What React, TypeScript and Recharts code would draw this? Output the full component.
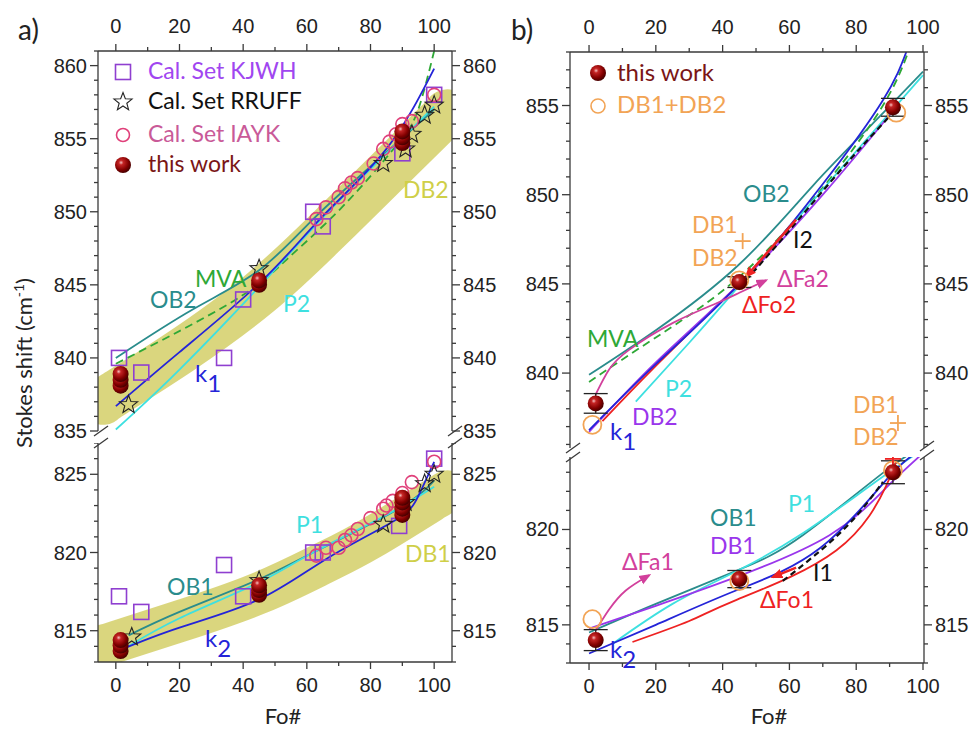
import React from "react";
import { ComposedChart, Line, Scatter, XAxis, YAxis, ErrorBar } from "recharts";

type Pt = { x: number; y: number; err?: number };

// ---------- a) upper window ----------
const kjwhAUp: Pt[] = [
  { x: 1, y: 840 }, { x: 8, y: 839 }, { x: 34, y: 840 }, { x: 40, y: 844 },
  { x: 62, y: 850 }, { x: 65, y: 849 }, { x: 90, y: 854 }, { x: 100, y: 858 },
];
const rruffAUp: Pt[] = [
  { x: 4, y: 836.8 }, { x: 45, y: 846.1 }, { x: 84, y: 853.3 }, { x: 91, y: 854.3 },
  { x: 93, y: 855.3 }, { x: 97, y: 856.6 }, { x: 100, y: 857.3 },
];
const iaykAUp: Pt[] = [
  { x: 63, y: 849.5 }, { x: 66, y: 850.3 }, { x: 70, y: 851 }, { x: 72, y: 851.6 },
  { x: 74, y: 852 }, { x: 76, y: 852.3 }, { x: 81, y: 853.3 }, { x: 84, y: 854.3 },
  { x: 86, y: 854.8 }, { x: 88, y: 855.3 }, { x: 90, y: 856 }, { x: 93, y: 856.2 }, { x: 100, y: 858 },
];
const thisAUp: Pt[] = [
  { x: 1.5, y: 838.1 }, { x: 1.5, y: 838.5 }, { x: 1.5, y: 838.9 }, { x: 45, y: 845 },
  { x: 45, y: 845.3 }, { x: 90, y: 854.7 }, { x: 90, y: 855.1 }, { x: 90, y: 855.5 },
];
const db2Band: Pt[] = [
  { x: -4, y: 837 }, { x: 0, y: 837.6 }, { x: 20, y: 840.4 }, { x: 45, y: 844.4 },
  { x: 65, y: 848.4 }, { x: 80, y: 851.6 }, { x: 100, y: 855.9 }, { x: 104, y: 856.8 },
];
const ob2A: Pt[] = [
  { x: 0, y: 840 }, { x: 24, y: 843.3 }, { x: 45, y: 846 }, { x: 62, y: 849.5 },
  { x: 80, y: 853.1 }, { x: 100, y: 857 },
];
const mvaA: Pt[] = [
  { x: 0, y: 839.6 }, { x: 37, y: 843.9 }, { x: 54, y: 846.8 }, { x: 71, y: 850.3 },
  { x: 88, y: 854.5 }, { x: 95, y: 857 }, { x: 100, y: 861 },
];
const k1A: Pt[] = [
  { x: 0, y: 836.7 }, { x: 20, y: 840.4 }, { x: 46, y: 845.3 }, { x: 65, y: 849.7 },
  { x: 85, y: 854.3 }, { x: 100, y: 859.8 },
];
const p2A: Pt[] = [
  { x: 0, y: 835.1 }, { x: 20, y: 839.2 }, { x: 46, y: 845.1 }, { x: 65, y: 849.6 },
  { x: 85, y: 854 }, { x: 100, y: 857.2 },
];

// ---------- a) lower window ----------
const kjwhALow: Pt[] = [
  { x: 1, y: 817.2 }, { x: 8, y: 816.2 }, { x: 34, y: 819.2 }, { x: 40, y: 817.2 },
  { x: 62, y: 820 }, { x: 65, y: 820 }, { x: 89, y: 821.7 }, { x: 100, y: 826 },
];
const rruffALow: Pt[] = [
  { x: 5, y: 814.6 }, { x: 45, y: 818.2 }, { x: 84, y: 821.8 }, { x: 91, y: 823.2 },
  { x: 97, y: 824.4 }, { x: 100, y: 825 },
];
const iaykALow: Pt[] = [
  { x: 63, y: 819.8 }, { x: 66, y: 820.3 }, { x: 70, y: 820.3 }, { x: 72, y: 820.8 },
  { x: 74, y: 821.1 }, { x: 76, y: 821.5 }, { x: 80, y: 822.2 }, { x: 84, y: 822.8 },
  { x: 85, y: 823 }, { x: 87, y: 823.3 }, { x: 90, y: 823.8 }, { x: 93, y: 824.5 }, { x: 100, y: 825.8 },
];
const thisALow: Pt[] = [
  { x: 1.5, y: 813.7 }, { x: 1.5, y: 814.05 }, { x: 1.5, y: 814.4 }, { x: 45, y: 817.3 },
  { x: 45, y: 817.6 }, { x: 45, y: 817.9 }, { x: 90, y: 822.4 }, { x: 90, y: 822.8 },
  { x: 90, y: 823.2 }, { x: 90, y: 823.5 },
];
const db1Band: Pt[] = [
  { x: -4, y: 814.05 }, { x: 0, y: 814.3 }, { x: 20, y: 815.6 }, { x: 45, y: 817.4 },
  { x: 65, y: 819.3 }, { x: 80, y: 820.9 }, { x: 100, y: 823.4 }, { x: 104, y: 823.9 },
];
const ob1A: Pt[] = [
  { x: 4, y: 814.7 }, { x: 20, y: 816.2 }, { x: 44, y: 818.2 }, { x: 62, y: 820 },
  { x: 88, y: 822.7 }, { x: 100, y: 824.6 },
];
const k2A: Pt[] = [
  { x: 0.5, y: 813.7 }, { x: 20, y: 815.2 }, { x: 45, y: 817 }, { x: 67, y: 819.7 },
  { x: 88, y: 822.1 }, { x: 95, y: 823.6 }, { x: 100, y: 825.8 },
];
const p1A: Pt[] = [
  { x: 3, y: 813.9 }, { x: 20, y: 815.8 }, { x: 44, y: 818 }, { x: 62, y: 820 },
  { x: 85, y: 822.4 }, { x: 100, y: 824.2 },
];

// ---------- b) upper window ----------
const thisBUp: Pt[] = [{ x: 2, y: 838.3, err: 0.55 }, { x: 45, y: 845.1, err: 0.3 }, { x: 91, y: 854.9, err: 0.5 }];
const dbBUp: Pt[] = [{ x: 1, y: 837.1 }, { x: 45, y: 845.2 }, { x: 92, y: 854.6 }];
const plusBUp: Pt[] = [{ x: 46, y: 847.4 }, { x: 92.5, y: 837.2 }];
const ob2B: Pt[] = [
  { x: 0, y: 839.9 }, { x: 20, y: 842.4 }, { x: 45, y: 846.1 }, { x: 67, y: 850.5 },
  { x: 85, y: 854 }, { x: 100, y: 856.9 },
];
const mvaB: Pt[] = [
  { x: 0, y: 839.5 }, { x: 20, y: 842 }, { x: 45, y: 845.4 }, { x: 70, y: 850.4 },
  { x: 88, y: 855 }, { x: 96, y: 858.2 },
];
const k1B: Pt[] = [
  { x: 0, y: 836.8 }, { x: 20, y: 840.5 }, { x: 45, y: 845 }, { x: 70, y: 850.6 },
  { x: 88, y: 855.3 }, { x: 95, y: 858 },
];
const p2B: Pt[] = [
  { x: 14, y: 838.4 }, { x: 30, y: 841.7 }, { x: 45, y: 844.9 }, { x: 70, y: 850.3 }, { x: 100, y: 856.7 },
];
const db2B: Pt[] = [
  { x: 0, y: 836.7 }, { x: 20, y: 840.6 }, { x: 45, y: 845 }, { x: 70, y: 850 }, { x: 91, y: 854.7 },
];
const dFa2: Pt[] = [
  { x: 2, y: 838.8 }, { x: 6, y: 840.2 }, { x: 12, y: 841.3 }, { x: 25, y: 842.8 },
  { x: 38, y: 843.9 }, { x: 45, y: 844.5 }, { x: 53, y: 845.2 },
];
const dFo2Tail: Pt[] = [{ x: 4, y: 837.3 }, { x: 20, y: 840.4 }, { x: 45, y: 845 }];
const dFo2Arrow: Pt[] = [{ x: 62, y: 848.6 }, { x: 47, y: 845.4 }];
const i2: Pt[] = [{ x: 47, y: 845.2 }, { x: 60, y: 848 }, { x: 75, y: 851.3 }, { x: 90, y: 854.4 }];

// ---------- b) lower window ----------
const thisBLow: Pt[] = [{ x: 2, y: 814.2, err: 0.55 }, { x: 45, y: 817.4, err: 0.45 }, { x: 91, y: 823, err: 0.6 }];
const dbBLow: Pt[] = [{ x: 1, y: 815.3 }, { x: 45, y: 817.3 }, { x: 91, y: 823.1 }];
const plusBLow: Pt[] = [{ x: 91, y: 823.7 }];
const ob1B: Pt[] = [
  { x: 0, y: 814.6 }, { x: 20, y: 816.1 }, { x: 45, y: 817.9 }, { x: 64, y: 819.7 },
  { x: 89, y: 823.1 }, { x: 100, y: 824.3 },
];
const p1B: Pt[] = [
  { x: 7, y: 814 }, { x: 25, y: 816.1 }, { x: 44, y: 817.8 }, { x: 64, y: 819.8 },
  { x: 85, y: 822.4 }, { x: 100, y: 824.2 },
];
const db1B: Pt[] = [
  { x: 0, y: 814.8 }, { x: 20, y: 816 }, { x: 44, y: 817.5 }, { x: 72, y: 819.7 },
  { x: 89, y: 822.2 }, { x: 100, y: 824 },
];
const k2B: Pt[] = [
  { x: 0, y: 813.5 }, { x: 20, y: 815 }, { x: 44, y: 816.8 }, { x: 69, y: 819 },
  { x: 89, y: 822.6 }, { x: 97, y: 823.9 },
];
const dFo1: Pt[] = [
  { x: 13, y: 814.1 }, { x: 30, y: 815.2 }, { x: 44, y: 816.3 }, { x: 74, y: 818.9 },
  { x: 89, y: 822.3 }, { x: 92, y: 823.6 },
];
const dFo1Arrow: Pt[] = [{ x: 62, y: 818 }, { x: 55, y: 817.5 }];
const dFa1: Pt[] = [{ x: 2, y: 814.7 }, { x: 6, y: 815.8 }, { x: 11, y: 816.8 }, { x: 18, y: 817.6 }];
const i1: Pt[] = [{ x: 58, y: 817.3 }, { x: 70, y: 819 }, { x: 80, y: 820.7 }, { x: 88, y: 822.5 }];

const X_TICKS = [0, 10, 20, 30, 40, 50, 60, 70, 80, 90, 100];
const range = (a: number, b: number) => {
  const out: number[] = [];
  for (let v = a; v <= b; v++) out.push(v);
  return out;
};

const AXIS = "#3a3a3a";
const FONT_TICK = "'Liberation Sans', Arial, sans-serif";
const FONT_LBL = "Lato, 'Open Sans', sans-serif";
const COL = {
  kjwh: "#8f3fd0",
  kjwhText: "#a046f0",
  iayk: "#e0407a",
  iaykText: "#c95a98",
  thisText: "#7a1616",
  teal: "#2a8c8c",
  green: "#2ea836",
  blue: "#2424d8",
  cyan: "#3ee0e0",
  band: "#d6d270",
  bandText: "#cfcf48",
  purple: "#9a36ec",
  orange: "#f2a455",
  magenta: "#d2409c",
  red: "#ee2222",
};

const xTick = (side: "top" | "bottom") => (p: any) => {
  const v = p.payload.value;
  const major = v % 20 === 0;
  const dir = side === "top" ? -1 : 1;
  const len = major ? 7 : 4;
  return (
    <g>
      <line x1={p.x} x2={p.x} y1={p.y} y2={p.y + dir * len} stroke={AXIS} strokeWidth={1.3} />
      {major && (
        <text x={p.x} y={side === "top" ? p.y - 18 : p.y + 30} textAnchor="middle" fontFamily={FONT_TICK} fontSize={20} fill="#222">
          {v}
        </text>
      )}
    </g>
  );
};

const yTick = (side: "left" | "right") => (p: any) => {
  const v = p.payload.value;
  const major = v % 5 === 0;
  const dir = side === "left" ? -1 : 1;
  const len = major ? 8 : 4;
  return (
    <g>
      <line x1={p.x} x2={p.x + dir * len} y1={p.y} y2={p.y} stroke={AXIS} strokeWidth={1.3} />
      {major && (
        <text x={p.x + dir * (len + 3)} y={p.y + 7} textAnchor={side === "left" ? "end" : "start"} fontFamily={FONT_TICK} fontSize={20} fill="#222">
          {v}
        </text>
      )}
    </g>
  );
};

// marker shapes
const starPath = (cx: number, cy: number, R: number, r: number) => {
  let d = "";
  for (let i = 0; i < 10; i++) {
    const a = -Math.PI / 2 + (i * Math.PI) / 5;
    const rad = i % 2 === 0 ? R : r;
    d += (i === 0 ? "M" : "L") + (cx + rad * Math.cos(a)).toFixed(2) + "," + (cy + rad * Math.sin(a)).toFixed(2);
  }
  return d + "Z";
};
const SquareShape = (p: any) => (
  <rect x={p.cx - 7.5} y={p.cy - 7.5} width={15} height={15} fill="none" stroke={COL.kjwh} strokeWidth={1.6} />
);
const StarShape = (p: any) => <path d={starPath(p.cx, p.cy, 9.5, 4)} fill="none" stroke="#222" strokeWidth={1.1} />;
const RingShape = (p: any) => <circle cx={p.cx} cy={p.cy} r={6.5} fill="none" stroke={COL.iayk} strokeWidth={1.6} />;
const BigRing = (p: any) => <circle cx={p.cx} cy={p.cy} r={9} fill="none" stroke={COL.orange} strokeWidth={1.8} />;
const Sphere = (p: any) => <circle cx={p.cx} cy={p.cy} r={8} fill="url(#sphereGrad)" />;
const PlusShape = (color: string) => (p: any) => (
  <g stroke={color} strokeWidth={1.8}>
    <line x1={p.cx - 8} x2={p.cx + 8} y1={p.cy} y2={p.cy} />
    <line x1={p.cx} x2={p.cx} y1={p.cy - 8} y2={p.cy + 8} />
  </g>
);

const curve = (key: string, data: Pt[], stroke: string, extra: any = {}) => (
  <Line
    key={key}
    yAxisId="l"
    data={data}
    dataKey="y"
    type="natural"
    stroke={stroke}
    strokeWidth={1.8}
    dot={false}
    activeDot={false}
    isAnimationActive={false}
    {...extra}
  />
);
const band = (key: string, data: Pt[], w: number) =>
  curve(key, data, COL.band, { strokeWidth: w, strokeLinecap: "round", strokeOpacity: 0.9 });
const pts = (key: string, data: Pt[], shape: any, withErr = false) => (
  <Scatter key={key} yAxisId="l" data={data} shape={shape} isAnimationActive={false}>
    {withErr && <ErrorBar dataKey="err" direction="y" width={12} stroke="#222" strokeWidth={1.3} />}
  </Scatter>
);

function SubPlot(props: any) {
  const { left, top, width, height, xDomain, yDomain, yTicks, xSide, padL, padR, padX, padB = 0, children } = props;
  return (
    <div style={{ position: "absolute", left, top }}>
      <ComposedChart width={width} height={height} margin={{ top: 0, right: 0, bottom: padB, left: 0 }}>
        <XAxis
          type="number"
          dataKey="x"
          domain={xDomain}
          ticks={X_TICKS}
          interval={0}
          orientation={xSide}
          height={padX}
          allowDataOverflow
          tickSize={0}
          tickMargin={0}
          tickLine={false}
          axisLine={{ stroke: AXIS, strokeWidth: 1.3 }}
          tick={xTick(xSide)}
        />
        <YAxis
          yAxisId="l"
          type="number"
          dataKey="y"
          domain={yDomain}
          ticks={yTicks}
          interval={0}
          orientation="left"
          width={padL}
          allowDataOverflow
          tickSize={0}
          tickMargin={0}
          tickLine={false}
          axisLine={{ stroke: AXIS, strokeWidth: 1.3 }}
          tick={yTick("left")}
        />
        <YAxis
          yAxisId="r"
          type="number"
          domain={yDomain}
          ticks={yTicks}
          interval={0}
          orientation="right"
          width={padR}
          allowDataOverflow
          tickSize={0}
          tickMargin={0}
          tickLine={false}
          axisLine={{ stroke: AXIS, strokeWidth: 1.3 }}
          tick={yTick("right")}
        />
        {children}
      </ComposedChart>
    </div>
  );
}

const Lbl = ({ x, y, c, children, size = 23 }: any) => (
  <text x={x} y={y} fill={c} fontFamily={FONT_LBL} fontSize={size}>
    {children}
  </text>
);
const KLbl = ({ x, y, n, c }: any) => (
  <text x={x} y={y} fill={c} fontFamily={FONT_LBL} fontSize={24}>
    k<tspan dy={10}>{n}</tspan>
  </text>
);
const Break = ({ x, y }: any) => (
  <line x1={x - 6} y1={y + 5} x2={x + 8} y2={y - 5} stroke={AXIS} strokeWidth={1.3} />
);

export default function App() {
  const dash = { strokeDasharray: "8 5" };
  return (
    <div style={{ position: "absolute", left: 0, top: 0, width: 975, height: 731, background: "#fff", overflow: "hidden" }}>
      <svg width={0} height={0} style={{ position: "absolute" }}>
        <defs>
          <radialGradient id="sphereGrad" cx="38%" cy="35%" r="65%">
            <stop offset="0%" stopColor="#f4c0c0" />
            <stop offset="22%" stopColor="#c42424" />
            <stop offset="70%" stopColor="#820000" />
            <stop offset="100%" stopColor="#4a0000" />
          </radialGradient>
          <marker id="ahMag" viewBox="0 0 10 10" refX="8" refY="5" markerWidth="12" markerHeight="12" markerUnits="userSpaceOnUse" orient="auto">
            <path d="M0,1 L10,5 L0,9 z" fill={COL.magenta} />
          </marker>
          <marker id="ahRed" viewBox="0 0 10 10" refX="8" refY="5" markerWidth="12" markerHeight="12" markerUnits="userSpaceOnUse" orient="auto">
            <path d="M0,1 L10,5 L0,9 z" fill={COL.red} />
          </marker>
        </defs>
      </svg>

      {/* a) upper */}
      <SubPlot left={0} top={0} width={500} height={445} padB={14} xDomain={[-5.6, 105.6]} yDomain={[835, 861]} yTicks={range(835, 861)} xSide="top" padL={98} padR={48} padX={51}>
        {band("db2", db2Band, 46)}
        {curve("ob2", ob2A, COL.teal)}
        {curve("mva", mvaA, COL.green, dash)}
        {curve("p2", p2A, COL.cyan)}
        {curve("k1", k1A, COL.blue)}
        {pts("kj", kjwhAUp, SquareShape)}
        {pts("ia", iaykAUp, RingShape)}
        {pts("rr", rruffAUp, StarShape)}
        {pts("tw", thisAUp, Sphere)}
      </SubPlot>

      {/* a) lower */}
      <SubPlot left={0} top={443} width={500} height={288} xDomain={[-5.6, 105.6]} yDomain={[813, 827]} yTicks={range(813, 827)} xSide="bottom" padL={98} padR={48} padX={69}>
        {band("db1", db1Band, 42)}
        {curve("ob1", ob1A, COL.teal)}
        {curve("p1", p1A, COL.cyan)}
        {curve("k2", k2A, COL.blue)}
        {pts("kj", kjwhALow, SquareShape)}
        {pts("ia", iaykALow, RingShape)}
        {pts("rr", rruffALow, StarShape)}
        {pts("tw", thisALow, Sphere)}
      </SubPlot>

      {/* b) upper */}
      <SubPlot left={480} top={0} width={495} height={462} padB={14} xDomain={[-5.7, 100.3]} yDomain={[835.8, 858]} yTicks={range(836, 858)} xSide="top" padL={90} padR={51} padX={52}>
        {curve("ob2", ob2B, COL.teal)}
        {curve("mva", mvaB, COL.green, dash)}
        {curve("p2", p2B, COL.cyan)}
        {curve("fo2t", dFo2Tail, COL.red)}
        {curve("db2", db2B, COL.purple)}
        {curve("k1", k1B, COL.blue)}
        {curve("i2", i2, "#111", { strokeDasharray: "6 4", strokeWidth: 2.2 })}
        {curve("fa2", dFa2, COL.magenta, { markerEnd: "url(#ahMag)" })}
        {curve("fo2", dFo2Arrow, COL.red, { type: "linear", strokeWidth: 2.6, markerEnd: "url(#ahRed)" })}
        {pts("db", dbBUp, BigRing)}
        {pts("pl", plusBUp, PlusShape(COL.orange))}
        {pts("tw", thisBUp, Sphere, true)}
      </SubPlot>

      {/* b) lower */}
      <SubPlot left={480} top={457} width={495} height={274} xDomain={[-5.7, 100.3]} yDomain={[813, 823.8]} yTicks={range(813, 823)} xSide="bottom" padL={90} padR={51} padX={68}>
        {curve("ob1", ob1B, COL.teal)}
        {curve("p1", p1B, COL.cyan)}
        {curve("db1", db1B, COL.purple)}
        {curve("k2", k2B, COL.blue)}
        {curve("fo1", dFo1, COL.red)}
        {curve("i1", i1, "#111", { strokeDasharray: "6 4", strokeWidth: 2.2 })}
        {curve("fa1", dFa1, COL.magenta, { markerEnd: "url(#ahMag)" })}
        {curve("fo1a", dFo1Arrow, COL.red, { type: "linear", strokeWidth: 2.4, markerEnd: "url(#ahRed)" })}
        {pts("db", dbBLow, BigRing)}
        {pts("pl", plusBLow, PlusShape(COL.red))}
        {pts("tw", thisBLow, Sphere, true)}
      </SubPlot>

      {/* annotations */}
      <svg width={975} height={731} style={{ position: "absolute", left: 0, top: 0, pointerEvents: "none" }}>
        <text x={18} y={40} fontFamily={FONT_LBL} fontSize={28} fill="#222">a)</text>
        <text x={511} y={40} fontFamily={FONT_LBL} fontSize={28} fill="#222">b)</text>
        <text transform="translate(32,363) rotate(-90)" textAnchor="middle" fontFamily={FONT_LBL} fontSize={22} fill="#222">
          Stokes shift (cm<tspan dy={-8} fontSize={14}>-1</tspan>
          <tspan dy={8}>)</tspan>
        </text>
        <text x={283} y={724} textAnchor="middle" fontFamily={FONT_LBL} fontSize={22} fill="#222">Fo#</text>
        <text x={769} y={724} textAnchor="middle" fontFamily={FONT_LBL} fontSize={22} fill="#222">Fo#</text>

        {/* breaks */}
        <Break x={100} y={431} />
        <Break x={100} y={443} />
        <Break x={454} y={431} />
        <Break x={454} y={443} />
        <Break x={572} y={448} />
        <Break x={572} y={457} />
        <Break x={926} y={446} />
        <Break x={926} y={455} />

        {/* legend a */}
        <SquareShape cx={123} cy={72} />
        <StarShape cx={123} cy={102} />
        <RingShape cx={123} cy={135} />
        <Sphere cx={123} cy={165} />
        <Lbl x={148} y={79} c={COL.kjwhText}>Cal. Set KJWH</Lbl>
        <Lbl x={148} y={109} c="#111">Cal. Set RRUFF</Lbl>
        <Lbl x={148} y={142} c={COL.iaykText}>Cal. Set IAYK</Lbl>
        <Lbl x={148} y={172} c={COL.thisText}>this work</Lbl>

        {/* legend b */}
        <Sphere cx={598} cy={73} />
        <circle cx={598} cy={106} r={7} fill="none" stroke={COL.orange} strokeWidth={1.6} />
        <Lbl x={617} y={81} c={COL.thisText} size={24}>this work</Lbl>
        <Lbl x={617} y={113} c={COL.orange} size={24}>DB1+DB2</Lbl>

        {/* panel a labels */}
        <Lbl x={195} y={287} c={COL.green}>MVA</Lbl>
        <Lbl x={150} y={308} c={COL.teal}>OB2</Lbl>
        <Lbl x={283} y={312} c={COL.cyan}>P2</Lbl>
        <KLbl x={195} y={382} n="1" c={COL.blue} />
        <Lbl x={403} y={198} c={COL.bandText}>DB2</Lbl>
        <Lbl x={296} y={533} c={COL.cyan}>P1</Lbl>
        <Lbl x={405} y={562} c={COL.bandText}>DB1</Lbl>
        <Lbl x={167} y={595} c={COL.teal}>OB1</Lbl>
        <KLbl x={205} y={647} n="2" c={COL.blue} />

        {/* panel b labels */}
        <Lbl x={743} y={202} c={COL.teal}>OB2</Lbl>
        <Lbl x={692} y={233} c={COL.orange}>DB1</Lbl>
        <Lbl x={692} y={266} c={COL.orange}>DB2</Lbl>
        <Lbl x={793} y={248} c="#111">I2</Lbl>
        <Lbl x={777} y={287} c={COL.magenta}>ΔFa2</Lbl>
        <Lbl x={742} y={313} c={COL.red}>ΔFo2</Lbl>
        <Lbl x={587} y={347} c={COL.green}>MVA</Lbl>
        <Lbl x={665} y={397} c={COL.cyan}>P2</Lbl>
        <Lbl x={632} y={425} c={COL.purple}>DB2</Lbl>
        <KLbl x={610} y={440} n="1" c={COL.blue} />
        <Lbl x={853} y={413} c={COL.orange}>DB1</Lbl>
        <Lbl x={853} y={445} c={COL.orange}>DB2</Lbl>
        <Lbl x={788} y={512} c={COL.cyan}>P1</Lbl>
        <Lbl x={710} y={526} c={COL.teal}>OB1</Lbl>
        <Lbl x={710} y={554} c={COL.purple}>DB1</Lbl>
        <Lbl x={622} y={570} c={COL.magenta}>ΔFa1</Lbl>
        <Lbl x={813} y={581} c="#111">I1</Lbl>
        <Lbl x={760} y={608} c={COL.red}>ΔFo1</Lbl>
        <KLbl x={610} y={658} n="2" c={COL.blue} />
      </svg>
    </div>
  );
}
